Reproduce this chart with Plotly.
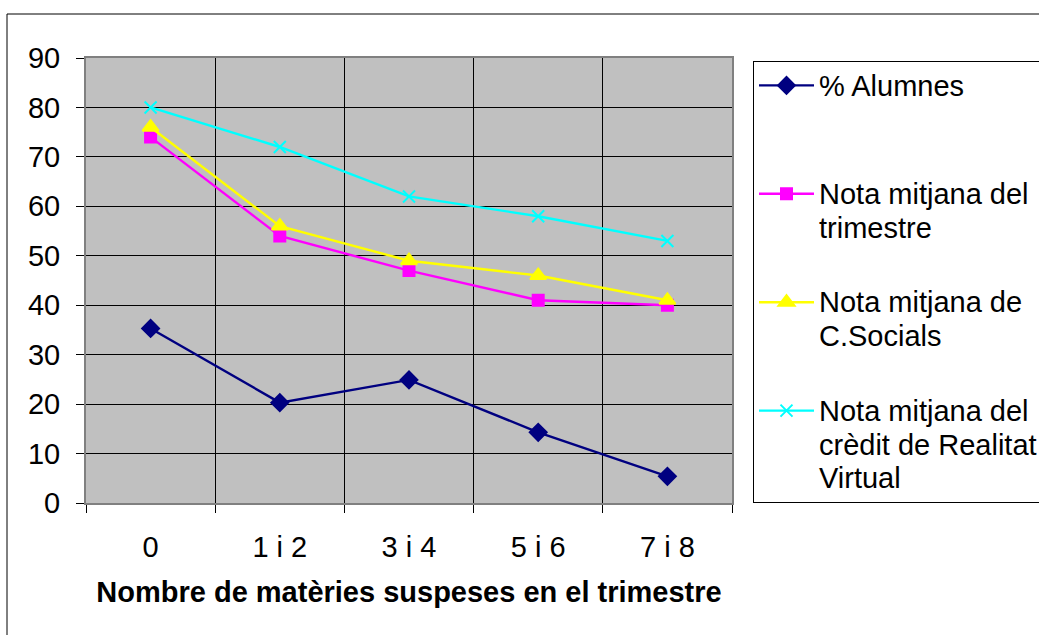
import plotly.graph_objects as go

# Categories: number of failed subjects in the term
categories = ["0", "1 i 2", "3 i 4", "5 i 6", "7 i 8"]

pct_alumnes = [35.3, 20.3, 24.9, 14.3, 5.4]
nota_trimestre = [74, 54, 47, 41, 40]
nota_socials = [76, 56, 49, 46, 41]
nota_realitat = [80, 72, 62, 58, 53]

series_names = [
    "% Alumnes",
    "Nota mitjana del<br>trimestre",
    "Nota mitjana de<br>C.Socials",
    "Nota mitjana del<br>crèdit de Realitat<br>Virtual",
]

FONT = "Liberation Sans, Arial, sans-serif"
TXT = 29


def legend_label(name):
    # every entry spans three lines so the items are evenly spaced
    lines = name.split("<br>")
    while len(lines) < 3:
        lines.append(" ")
    return "<br>".join(f"<span style='font-size:{TXT}px'>{ln}</span>" for ln in lines)


fig = go.Figure()

styles = [
    (pct_alumnes, "#000080", "diamond", 13),
    (nota_trimestre, "#FF00FF", "square", 11),
    (nota_socials, "#FFFF00", "triangle-up", 14),
    (nota_realitat, "#00FFFF", "x-thin", 12),
]

for i, (name, (vals, color, sym, size)) in enumerate(zip(series_names, styles)):
    fig.add_trace(go.Scatter(
        x=categories, y=vals, name=legend_label(name), mode="lines+markers",
        legendgroup=f"g{i}",
        line=dict(color=color, width=2.4),
        marker=dict(symbol=sym, size=size, color=color,
                    line=dict(color=color, width=2)),
        cliponaxis=False,
    ))

# Plot-area box in pixels and helpers converting pixels to paper coordinates
L, R, T, B = 86, 732, 58, 503
W, H = 1039, 635


def px(x):
    return (x - L) / (R - L)


def py(y):
    return (B - y) / (B - T)


# Outer chart frame
fig.add_shape(type="rect", xref="paper", yref="paper",
              x0=px(7), x1=px(1060), y0=py(14), y1=py(660),
              line=dict(color="black", width=1), fillcolor="rgba(0,0,0,0)",
              layer="below")

fig.update_layout(
    width=W, height=H,
    margin=dict(l=L, r=W - R, t=T, b=H - B, autoexpand=False),
    paper_bgcolor="white",
    plot_bgcolor="#C0C0C0",
    font=dict(family=FONT, size=TXT, color="black"),
    showlegend=True,
    legend=dict(
        x=px(753), y=py(61), xanchor="left", yanchor="top",
        bgcolor="white", bordercolor="black", borderwidth=1,
        font=dict(family=FONT, size=26, color="black"),
        valign="top", itemwidth=55, tracegroupgap=4,
        maxheight=600,
    ),
    xaxis=dict(
        type="category", range=[-0.5, 4.5], tickson="boundaries",
        showgrid=True, gridcolor="black", gridwidth=1,
        ticks="outside", ticklen=8, tickcolor="black", tickwidth=1,
        showline=True, linecolor="#808080", linewidth=2, mirror=True,
        ticklabelstandoff=17,
        tickfont=dict(family=FONT, size=TXT),
        title=dict(text="<b>Nombre de matèries suspeses en el trimestre</b>",
                   font=dict(family=FONT, size=TXT), standoff=20),
        zeroline=False,
    ),
    yaxis=dict(
        range=[0, 90], dtick=10, tick0=0,
        showgrid=True, gridcolor="black", gridwidth=1,
        ticks="outside", ticklen=8, tickcolor="black", tickwidth=1,
        showline=True, linecolor="#808080", linewidth=2, mirror=True,
        ticklabelstandoff=10,
        tickfont=dict(family=FONT, size=TXT),
        zeroline=False,
    ),
)

fig.write_html("out.html")
